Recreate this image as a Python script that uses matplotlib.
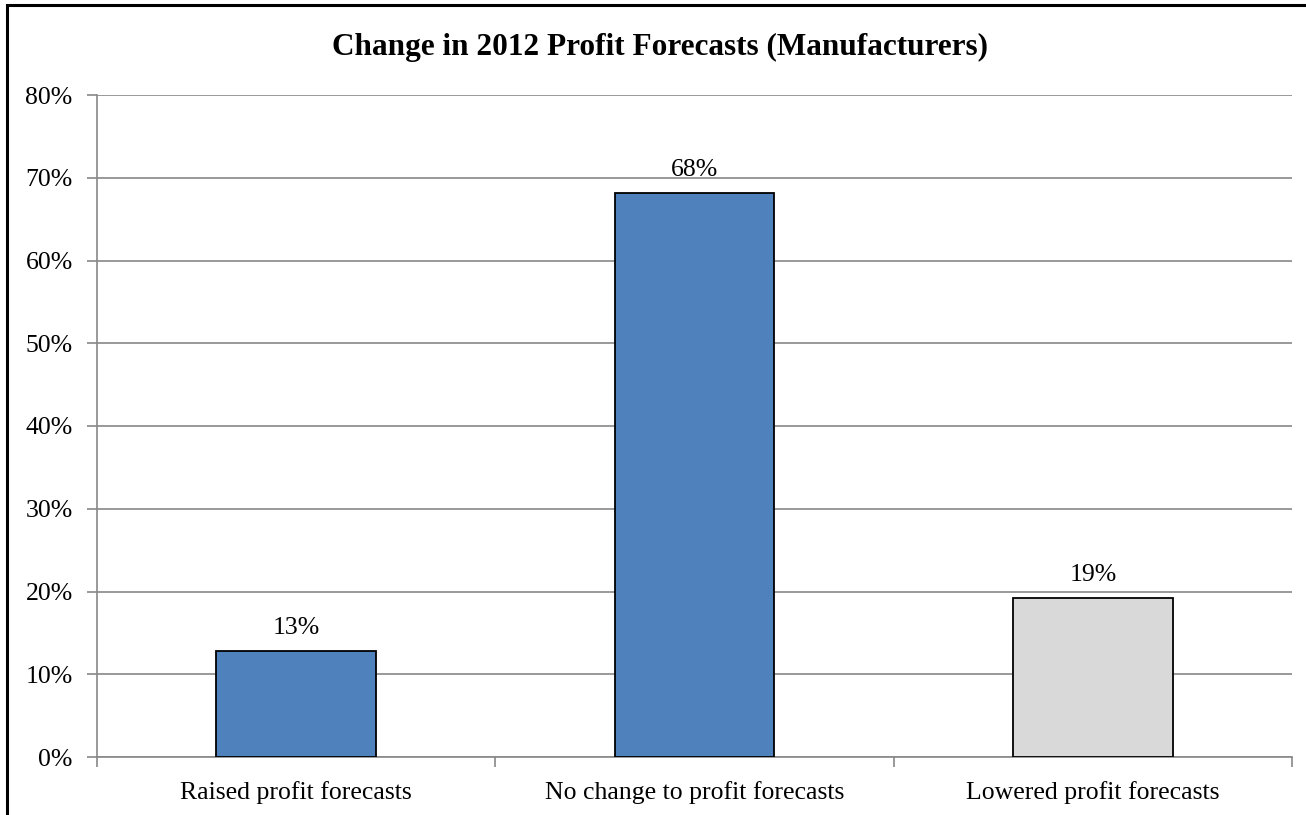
import matplotlib.pyplot as plt
from matplotlib.patches import Rectangle
from matplotlib.ticker import FixedLocator

categories = ['Raised profit forecasts', 'No change to profit forecasts', 'Lowered profit forecasts']
values = [12.8, 68.1, 19.2]
labels = ['13%', '68%', '19%']
colors = ['#4F81BD', '#4F81BD', '#D9D9D9']
y_ticks = [0, 10, 20, 30, 40, 50, 60, 70, 80]

plt.rcParams['font.family'] = ['Liberation Serif', 'DejaVu Serif']

fig = plt.figure(figsize=(13.06, 8.15), dpi=100)
W, H = 1306, 815
ax = fig.add_axes([97 / W, 1 - 757 / H, (1292 - 97) / W, (757 - 95) / H])

x = list(range(len(categories)))
bars = ax.bar(x, values, width=0.40, color=colors, edgecolor='black', linewidth=1.3, zorder=3)
for b, lab in zip(bars, labels):
    ax.text(b.get_x() + b.get_width() / 2, b.get_height() + 1.5, lab,
            ha='center', va='bottom', fontsize=18.5)

ax.set_xlim(-0.5, len(categories) - 0.5)
ax.set_ylim(0, 80)
ax.set_yticks(y_ticks)
ax.set_yticklabels([f'{t}%' for t in y_ticks], fontsize=18.5)
ax.set_xticks(x)
ax.set_xticklabels(categories, fontsize=18.5)
ax.tick_params(axis='x', which='major', length=0, pad=17)
ax.xaxis.set_minor_locator(FixedLocator([-0.5, 0.5, 1.5, 2.5]))
ax.tick_params(axis='x', which='minor', length=7, color='#888888', width=1.2)
ax.tick_params(axis='y', length=7, color='#888888', width=1.2, pad=10.5)
ax.grid(axis='y', color='#888888', linewidth=1.2, zorder=0)
for s in ['top', 'right']:
    ax.spines[s].set_visible(False)
for s in ['left', 'bottom']:
    ax.spines[s].set_color('#888888')
    ax.spines[s].set_linewidth(1.2)

fig.text(660 / W, 1 - 47 / H, 'Change in 2012 Profit Forecasts (Manufacturers)',
         ha='center', va='center', fontsize=22.5, fontweight='bold')

fig.patches.append(Rectangle((7 / W, -0.1), 1.2, 1 - 5.5 / H + 0.1, transform=fig.transFigure,
                             fill=False, edgecolor='black', linewidth=2.2))

fig.savefig('out.png', dpi=100)
